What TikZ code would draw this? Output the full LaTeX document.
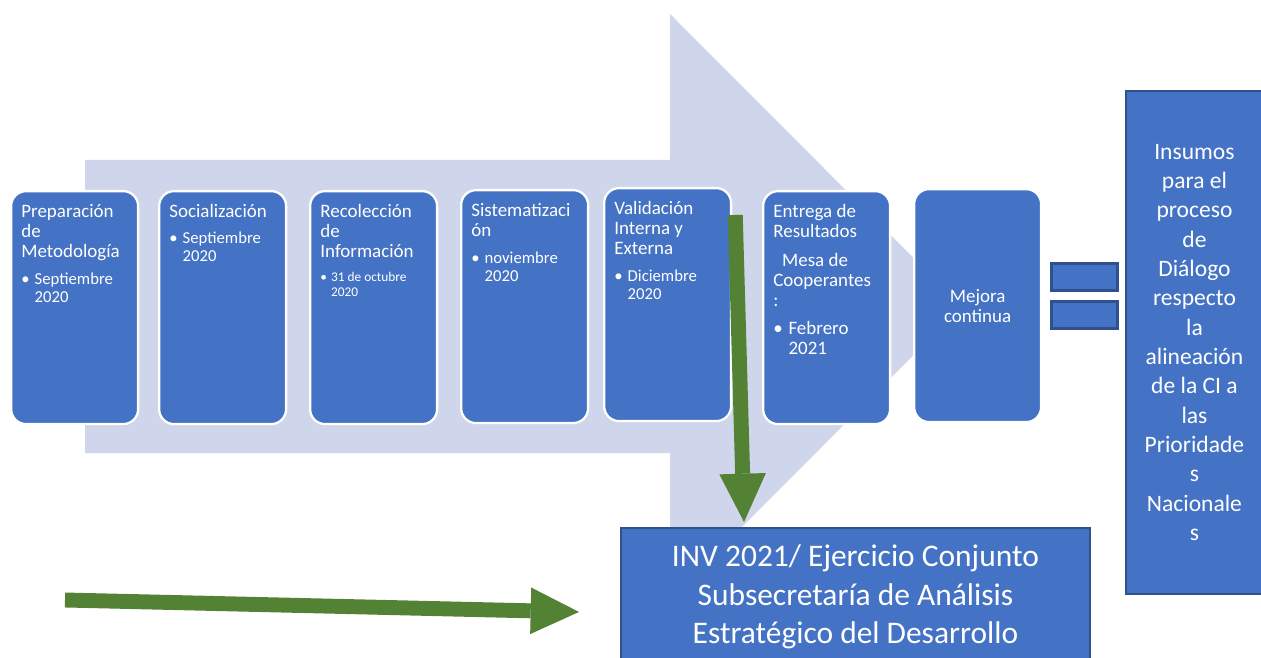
\documentclass[tikz,border=0pt]{standalone}
\usepackage{fontspec}
\setmainfont{Carlito}
\usetikzlibrary{arrows.meta}
\definecolor{stageblue}{HTML}{4472C4}
\definecolor{edgeblue}{HTML}{2F528F}
\definecolor{flowlilac}{HTML}{CFD5EA}
\definecolor{pushgreen}{HTML}{548235}
\begin{document}
\begin{tikzpicture}
[x=0.02cm,y=-0.02cm,
 stagedecorate/.style={shape=rectangle,anchor=north west,inner sep=0pt,
   minimum width=2.54cm,minimum height=4.66cm,rounded corners=8.5pt,
   fill=stageblue,draw=white,line width=1.3pt},%
 titledecorate/.style={anchor=north west,inner sep=0pt,align=left,text=white,
   font=\fontsize{10.8pt}{11.4pt}\selectfont},%
 datedecorate/.style={anchor=north west,inner sep=0pt,align=left,text=white,
   font=\fontsize{9.5pt}{10.2pt}\selectfont},%
 smalldatedecorate/.style={datedecorate,font=\fontsize{7.6pt}{8.5pt}\selectfont},%
 bigdatedecorate/.style={datedecorate,font=\fontsize{10.8pt}{11.4pt}\selectfont},%
 bardecorate/.style={shape=rectangle,anchor=north west,inner sep=0pt,
   minimum width=1.32cm,minimum height=0.54cm,fill=stageblue,draw=edgeblue,line width=1.6pt},%
 sidedecorate/.style={shape=rectangle,anchor=north west,inner sep=0pt,
   minimum width=2.74cm,minimum height=10.06cm,fill=stageblue,draw=edgeblue,line width=1.1pt,
   align=center,text=white,font=\fontsize{13.4pt}{16.7pt}\selectfont},%
 invdecorate/.style={shape=rectangle,anchor=north west,inner sep=0pt,
   minimum width=9.38cm,minimum height=2.76cm,fill=stageblue,draw=edgeblue,line width=1.1pt,
   align=center,text=white,font=\fontsize{17.9pt}{21.9pt}\selectfont},%
 arrowdecorate/.style={draw=pushgreen,line width=8.5pt,
   -{Triangle[length=27.5pt,width=26.5pt,line width=0pt]}}]
\useasboundingbox (0,0) rectangle (1261,658);
%% background arrow
\fill[flowlilac] (85,160) -- (670,160) -- (670,14) -- (962,306.5) -- (670,599)
  -- (670,453) -- (85,453) -- cycle;
%% stages
\foreach \boxname/\x/\y/\title in {prep/10/190/{Preparación\\de\\Metodología},
  social/158/190/{Socialización}, recol/309/190/{Recolección\\de\\Información},
  sistem/460/189/{Sistematizaci\\ón}, valid/603/187/{Validación\\Interna y\\Externa},
  entrega/762/190/{Entrega de\\Resultados\\[5pt]\hspace{5pt}Mesa de\\Cooperantes\\:}}
{
  \node (\boxname) at (\x,\y) [stagedecorate] {};
  \node (\boxname-title) at ([shift={(11,13)}]\boxname.north west) [titledecorate] {\strut\title};
}
\node (mejora) at (913,188) [stagedecorate,align=center,text=white,
  font=\fontsize{10.8pt}{11.4pt}\selectfont] {Mejora\\continua};
%% dates
\foreach \boxname/\dy/\datestyle/\when/\yr in {prep/81.5/datedecorate/Septiembre/2020,
  social/40.5/datedecorate/Septiembre/2020, recol/80.5/smalldatedecorate/31 de octubre/2020,
  sistem/61.5/datedecorate/noviembre/2020, valid/81.5/datedecorate/Diciembre/2020,
  entrega/130.5/bigdatedecorate/Febrero/2021}
{
  \node (\boxname-date) at ([shift={(11,\dy)}]\boxname.north west) [\datestyle]
    {\strut\makebox[0.8em][l]{•}\when\\\hspace{0.8em}\yr};
}
%% equals sign and results
\foreach \barname/\y in {upperbar/262, lowerbar/300}
{
  \node (\barname) at (1050,\y) [bardecorate] {};
}
\node (insumos) at (1125,90) [sidedecorate] {Insumos\\para el\\proceso\\de\\Diálogo\\respecto\\la\\alineación\\de la CI a\\las\\Prioridade\\s\\Nacionale\\s};
\node (inv) at (620,527) [invdecorate] {INV 2021/ Ejercicio Conjunto\\Subsecretaría de Análisis\\Estratégico del Desarrollo};
%% green arrows
\coordinate (validdrop) at ([shift={(3,28)}]valid.north east);
\coordinate (invtop) at ([shift={(124,-5)}]inv.north west);
\coordinate (feedstart) at (65,600);
\coordinate (feedtip) at ([shift={(-41,15)}]inv.west);
\draw[arrowdecorate] (validdrop) -- (invtop);
\draw[arrowdecorate] (feedstart) -- (feedtip);
\end{tikzpicture}
\end{document}
